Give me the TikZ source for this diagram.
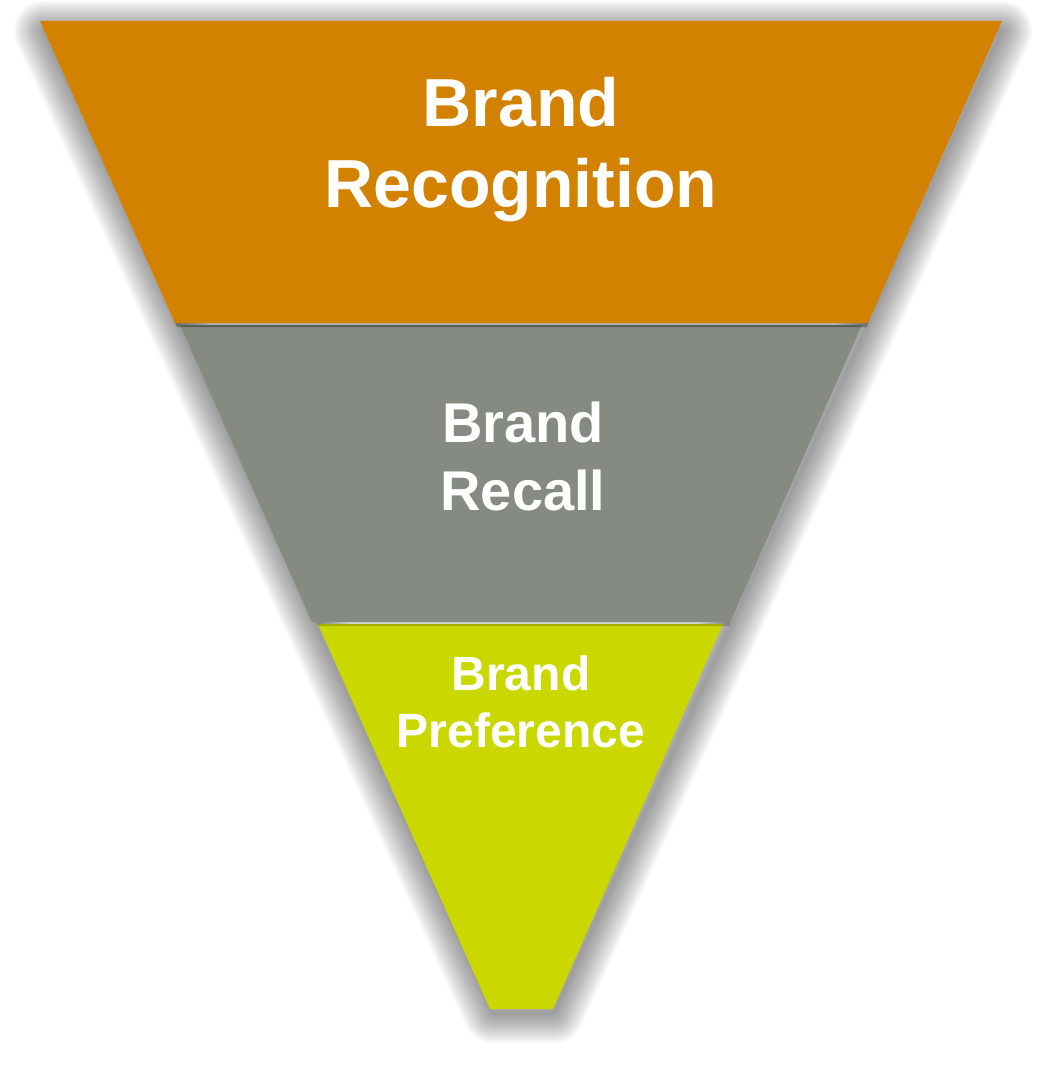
\documentclass[tikz,border=0pt]{standalone}
\usepackage{fontspec}
\setmainfont{Liberation Sans}
\usepackage{xcolor}
\usepackage{tikz}
\definecolor{funnelOrange}{RGB}{210, 130, 0}
\definecolor{funnelGrey}{RGB}{133, 138, 130}
\definecolor{funnelLime}{RGB}{202, 216, 0}
\tikzset{
  bandtext/.style={white, align=center, inner sep=0pt},
  softshade/.style={black, draw opacity=0.022, line join=round}
}

\begin{document}
\begin{tikzpicture}[x=1pt, y=-1pt]
\useasboundingbox (0,0) rectangle (1044,1070);

% Blurred shadow of the whole funnel
\foreach \w in {60,57,...,3}
  \draw[softshade, line width=\w pt, shift={(2,8)}]
    (42,23) -- (1000,23) -- (552,1005) -- (491,1005) -- cycle;

% Bottom band
\fill[funnelLime] (318,624) -- (723,624) -- (553,1009) -- (490,1009) -- cycle;
\fill[black, opacity=0.18] (316,621) -- (731,621) -- (729,626) -- (318,626) -- cycle;

% Middle band
\fill[funnelGrey] (180,325) -- (862,325) -- (730,622) -- (312,622) -- cycle;
\fill[black, opacity=0.3] (174,321) -- (869,321) -- (867,327) -- (177,327) -- cycle;

% Top band
\fill[funnelOrange] (40,21) -- (1002,21) -- (868,323) -- (175,323) -- cycle;

% Labels
\node[bandtext, font=\bfseries\fontsize{68}{81}\selectfont] (recog) at (521,150) {Brand\\Recognition};
\node[bandtext, font=\bfseries\fontsize{56}{68}\selectfont] (recall) at (523,456) {Brand\\Recall};
\node[bandtext, font=\bfseries\fontsize{48}{57}\selectfont] (pref) at (521,702) {Brand\\Preference};
\end{tikzpicture}
\end{document}
